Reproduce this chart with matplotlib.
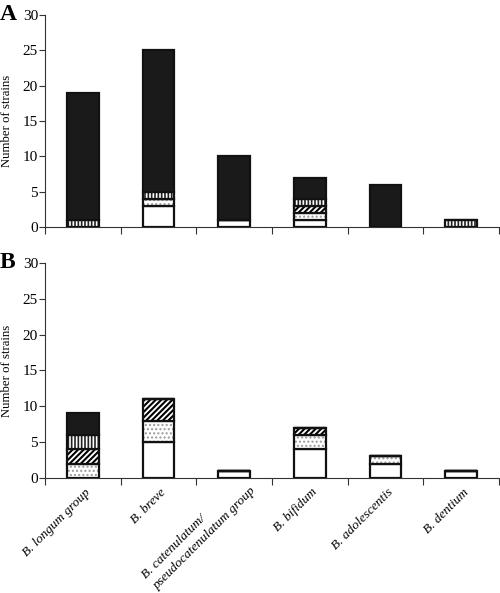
import matplotlib.pyplot as plt
import numpy as np

plt.rcParams["font.family"] = ["Liberation Serif", "DejaVu Serif"]

species = [
    "B. longum group",
    "B. breve",
    "B. catenulatum/\npseudocatenulatum group",
    "B. bifidum",
    "B. adolescentis",
    "B. dentium",
]

# stacked segments, bottom to top
layers = ["white", "dotted", "hatched", "striped", "black"]

panel_a = {
    "white":   [0, 3, 1, 1, 0, 0],
    "dotted":  [0, 1, 0, 1, 0, 0],
    "hatched": [0, 0, 0, 1, 0, 0],
    "striped": [1, 1, 0, 1, 0, 1],
    "black":   [18, 20, 9, 3, 6, 0],
}

panel_b = {
    "white":   [0, 5, 1, 4, 2, 1],
    "dotted":  [2, 3, 0, 2, 1, 0],
    "hatched": [2, 3, 0, 1, 0, 0],
    "striped": [2, 0, 0, 0, 0, 0],
    "black":   [3, 0, 0, 0, 0, 0],
}

# fill colour, hatch pattern, hatch colour, hatch line width
styles = {
    "white":   ("white", None, "black", 1.0),
    "dotted":  ("white", "....", "#9a9a9a", 1.0),
    "hatched": ("white", "//////", "black", 1.5),
    "striped": ("white", "|||||", "#222222", 1.2),
    "black":   ("#1a1a1a", None, "black", 1.0),
}


def draw_panel(ax, data, letter, show_labels):
    x = np.arange(len(species)) + 0.5
    bottom = np.zeros(len(species))
    for layer in layers:
        vals = np.array(data[layer], dtype=float)
        face, hatch, hcol, hlw = styles[layer]
        # fill + hatch (hatch colour comes from edgecolor)
        with plt.rc_context({"hatch.linewidth": hlw}):
            ax.bar(x, vals, width=0.42, bottom=bottom, facecolor=face,
                   hatch=hatch, edgecolor=hcol, linewidth=0)
        # outline
        ax.bar(x, vals, width=0.42, bottom=bottom, facecolor="none",
               edgecolor="#111111", linewidth=1.6)
        bottom += vals

    ax.set_xlim(0, len(species))
    ax.set_ylim(0, 30)
    ax.set_yticks(range(0, 31, 5))
    ax.spines["top"].set_visible(False)
    ax.spines["right"].set_visible(False)
    ax.spines["left"].set_color("#333333")
    ax.spines["bottom"].set_color("#333333")
    ax.tick_params(axis="y", labelsize=11, length=4, color="#333333", pad=1)

    ax.set_xticks(np.arange(len(species) + 1))
    ax.set_xticklabels([])
    ax.tick_params(axis="x", length=5, color="#333333")

    if show_labels:
        for i, name in enumerate(species):
            if "\n" in name:
                off, va = (10, -4), "center"
            else:
                off, va = (1, -6), "top"
            ax.annotate(name, xy=(x[i], 0), xycoords=("data", "axes fraction"),
                        xytext=off, textcoords="offset points",
                        rotation=45, rotation_mode="anchor", ha="right",
                        va=va, multialignment="left", linespacing=1.5,
                        fontstyle="italic", fontsize=9.6,
                        annotation_clip=False)

    ax.set_ylabel("Number of strains", fontsize=9.2)
    ax.yaxis.set_label_coords(-0.07, 0.5)
    ax.text(-0.1, 1.0, letter, transform=ax.transAxes, fontsize=17,
            fontweight="bold", ha="left", va="center")


fig = plt.figure(figsize=(5.0, 5.93), dpi=100)
ax_a = fig.add_axes([0.09, 0.617, 0.908, 0.358])
ax_b = fig.add_axes([0.09, 0.194, 0.908, 0.3625])

draw_panel(ax_a, panel_a, "A", False)
draw_panel(ax_b, panel_b, "B", True)

fig.savefig("out.png", dpi=100)
